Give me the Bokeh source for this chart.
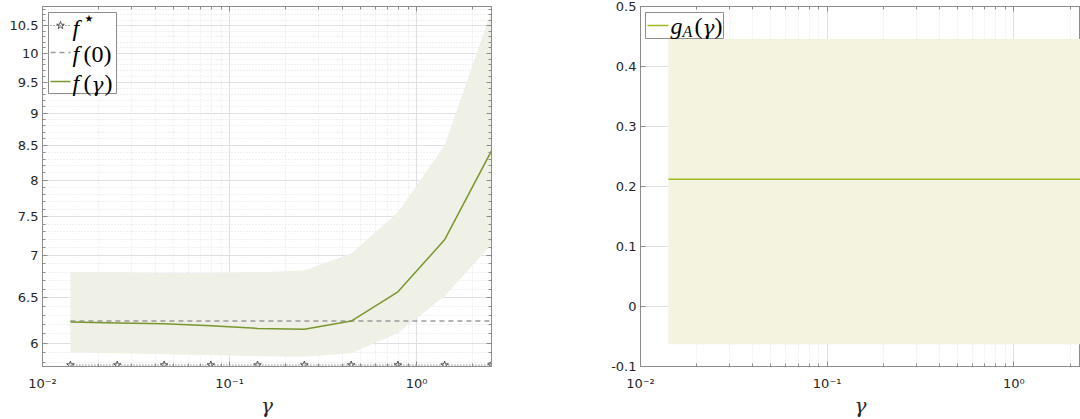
import math
from bokeh.plotting import figure
from bokeh.layouts import row
from bokeh.models import (FixedTicker, CustomJSTickFormatter, Range1d, Label, LogAxis, LinearAxis)
from bokeh.embed import file_html
from bokeh.resources import INLINE

# ---------------- data ----------------
gamma = [0.0141, 0.0251, 0.0447, 0.0794, 0.141, 0.251, 0.447, 0.794, 1.41, 2.51]
f_gamma = [6.23, 6.22, 6.21, 6.19, 6.16, 6.15, 6.24, 6.57, 7.20, 8.42]
f_upper = [6.80, 6.80, 6.79, 6.79, 6.80, 6.82, 7.03, 7.56, 8.50, 10.78]
f_lower = [5.907, 5.895, 5.885, 5.875, 5.866, 5.86, 5.895, 6.11, 6.52, 7.14]
f_zero = [6.24, 6.24, 6.24, 6.24, 6.24, 6.24, 6.24, 6.24, 6.24, 6.24]
f_star = [5.775, 5.775, 5.775, 5.775, 5.775, 5.775, 5.775, 5.775, 5.775, 5.775]

gA = [0.212, 0.212, 0.212, 0.212, 0.212, 0.212, 0.212, 0.212, 0.212, 0.212]
gA_upper = [0.446, 0.446, 0.446, 0.446, 0.446, 0.446, 0.446, 0.446, 0.446, 0.446]
gA_lower = [-0.063, -0.063, -0.063, -0.063, -0.063, -0.063, -0.063, -0.063, -0.063, -0.063]

left_yticks = [6, 6.5, 7, 7.5, 8, 8.5, 9, 9.5, 10, 10.5]
left_yminor = [5.8, 5.9, 6.1, 6.2, 6.3, 6.4, 6.6, 6.7, 6.8, 6.9, 7.1, 7.2, 7.3, 7.4,
               7.6, 7.7, 7.8, 7.9, 8.1, 8.2, 8.3, 8.4, 8.6, 8.7, 8.8, 8.9, 9.1, 9.2,
               9.3, 9.4, 9.6, 9.7, 9.8, 9.9, 10.1, 10.2, 10.3, 10.4, 10.6, 10.7, 10.8]
right_yticks = [-0.1, 0, 0.1, 0.2, 0.3, 0.4, 0.5]
xticks = [0.01, 0.1, 1]
xminor = [0.02, 0.03, 0.04, 0.05, 0.06, 0.07, 0.08, 0.09,
          0.2, 0.3, 0.4, 0.5, 0.6, 0.7, 0.8, 0.9, 2]

# ---------------- style ----------------
AX = "#8c8c8c"
TXT = "#262626"
GRID = "#e0e0e0"
MGRID = "#e3e3e3"
LINE_L = "#7a962e"
BAND_L = "#eff0e6"
LINE_R = "#a0b91e"
BAND_R = "#f4f3df"
SERIF = "Liberation Serif"
GSERIF = "DejaVu Serif"

xfmt = CustomJSTickFormatter(code="""
const e = Math.round(Math.log10(tick));
const m = {"-":"\\u207b","0":"\\u2070","1":"\\u00b9","2":"\\u00b2","3":"\\u00b3"};
return "10" + String(e).split("").map(c => m[c]).join("");
""")
yfmt = "return String(Math.round(tick*100)/100);"


def tick_style(ax):
    ax.axis_line_color = AX
    ax.major_tick_line_color = AX
    ax.minor_tick_line_color = AX
    ax.major_tick_in = 5
    ax.major_tick_out = 0
    ax.minor_tick_in = 3
    ax.minor_tick_out = 0


def mirror_axis(kind, ticker):
    ax = kind(ticker=ticker, formatter=CustomJSTickFormatter(code="return '';"))
    tick_style(ax)
    ax.major_label_standoff = 0
    ax.major_label_text_font_size = "1px"
    ax.major_label_text_alpha = 0
    return ax


def style(p, yticker):
    p.outline_line_color = AX
    p.outline_line_width = 1
    p.background_fill_color = "white"
    p.border_fill_color = "white"
    for ax in (p.xaxis[0], p.yaxis[0]):
        tick_style(ax)
        ax.major_label_text_color = TXT
        ax.major_label_text_font = "DejaVu Sans"
        ax.major_label_text_font_size = "13px"
    p.xaxis[0].ticker = FixedTicker(ticks=xticks, minor_ticks=xminor)
    p.xaxis[0].formatter = xfmt
    p.xaxis[0].major_label_standoff = 9
    p.xaxis[0].axis_label = "γ"
    p.xaxis[0].axis_label_text_font = GSERIF
    p.xaxis[0].axis_label_text_font_style = "italic"
    p.xaxis[0].axis_label_text_font_size = "20px"
    p.xaxis[0].axis_label_text_color = TXT
    p.xaxis[0].axis_label_standoff = 0
    p.yaxis[0].ticker = yticker
    p.yaxis[0].formatter = CustomJSTickFormatter(code=yfmt)
    p.yaxis[0].major_label_standoff = 4
    for g in (p.xgrid[0], p.ygrid[0]):
        g.grid_line_color = GRID
        g.grid_line_width = 1
    p.xgrid[0].ticker = p.xaxis[0].ticker
    p.ygrid[0].ticker = p.yaxis[0].ticker
    p.xgrid[0].minor_grid_line_color = MGRID
    p.xgrid[0].minor_grid_line_dash = "1 2"


def lab(p, x, y, dx, dy, text, size="24px", italic=True, font=SERIF):
    p.add_layout(Label(x=x, y=y, x_offset=dx, y_offset=-dy, text=text,
                       text_font=font, text_font_size=size,
                       text_font_style="italic" if italic else "normal",
                       text_color="black", text_baseline="middle", text_align="left"))


# ---------------- left figure ----------------
LFW, LFH = 449, 360
lx0, lx1 = 0.01, 2.512
ly0, ly1 = 5.76, 10.86
pl = figure(frame_width=LFW, frame_height=LFH, x_axis_type="log", y_axis_type="log",
            x_range=Range1d(lx0, lx1), y_range=Range1d(ly0, ly1),
            output_backend="svg", toolbar_location=None,
            min_border_left=42, min_border_right=69, min_border_top=6, min_border_bottom=53)
style(pl, FixedTicker(ticks=left_yticks, minor_ticks=left_yminor))
pl.ygrid[0].minor_grid_line_color = MGRID
pl.ygrid[0].minor_grid_line_dash = "1 2"
pl.add_layout(mirror_axis(LogAxis, FixedTicker(ticks=left_yticks, minor_ticks=left_yminor)), "right")
pl.add_layout(mirror_axis(LogAxis, FixedTicker(ticks=xticks, minor_ticks=xminor)), "above")

pl.varea(x=gamma, y1=f_lower, y2=f_upper, fill_color=BAND_L, fill_alpha=1)
pl.line(gamma, f_zero, line_color="#9a9a9a", line_width=1.5, line_dash="5 4")
pl.line(gamma, f_gamma, line_color=LINE_L, line_width=1.5)
pl.line(gamma, f_star, line_color="#555555", line_width=1, line_dash="1 2")
pl.scatter(gamma, f_star, marker="star", size=8, fill_color=None, line_color="#333333", line_width=0.8)


def lx(px):
    return 10 ** (math.log10(lx0) + px / LFW * (math.log10(lx1) - math.log10(lx0)))


def ly(py):
    return 10 ** (math.log10(ly1) - py / LFH * (math.log10(ly1) - math.log10(ly0)))


# legend (box, samples, labels)
pl.quad(left=[lx(6)], right=[lx(74)], top=[ly(6)], bottom=[ly(87)],
        fill_color="white", line_color="#8c8c8c", line_width=1)
pl.line([lx(8), lx(28)], [ly(19), ly(19)], line_color="#555555", line_width=1, line_dash="1 2")
pl.scatter([lx(18)], [ly(19)], marker="star", size=8, fill_color=None, line_color="#333333", line_width=0.8)
pl.line([lx(8), lx(28)], [ly(46), ly(46)], line_color="#9a9a9a", line_width=1.5, line_dash="5 4")
pl.line([lx(8), lx(28)], [ly(75), ly(75)], line_color=LINE_L, line_width=1.5)

lab(pl, lx0, ly1, 30, 21, "f")
lab(pl, lx0, ly1, 42, 12, "★", size="10px", italic=False, font="DejaVu Sans")
lab(pl, lx0, ly1, 30, 47, "f")
lab(pl, lx0, ly1, 41, 47, "(0)", italic=False)
lab(pl, lx0, ly1, 30, 76, "f")
lab(pl, lx0, ly1, 41, 76, "(", italic=False)
lab(pl, lx0, ly1, 49, 78, "γ", size="20px", font=GSERIF)
lab(pl, lx0, ly1, 62, 76, ")", italic=False)

# ---------------- right figure ----------------
RFW, RFH = 440, 360
rx0, rx1 = 0.01, 2.276
ry0, ry1 = -0.1, 0.5
pr = figure(frame_width=RFW, frame_height=RFH, x_axis_type="log",
            x_range=Range1d(rx0, rx1), y_range=Range1d(ry0, ry1),
            output_backend="svg", toolbar_location=None,
            min_border_left=80, min_border_right=0, min_border_top=6, min_border_bottom=53)
style(pr, FixedTicker(ticks=right_yticks))
pr.add_layout(mirror_axis(LogAxis, FixedTicker(ticks=xticks, minor_ticks=xminor)), "above")
pr.varea(x=gamma, y1=gA_lower, y2=gA_upper, fill_color=BAND_R, fill_alpha=1)
pr.line(gamma, gA, line_color=LINE_R, line_width=1.5)


def rx(px):
    return 10 ** (math.log10(rx0) + px / RFW * (math.log10(rx1) - math.log10(rx0)))


def ry(py):
    return ry1 - py / RFH * (ry1 - ry0)


pr.quad(left=[rx(5)], right=[rx(83)], top=[ry(6)], bottom=[ry(32)],
        fill_color="white", line_color="#8c8c8c", line_width=1)
pr.line([rx(7), rx(28)], [ry(19), ry(19)], line_color=LINE_R, line_width=1.5)
lab(pr, rx0, ry1, 30, 19, "g")
lab(pr, rx0, ry1, 42, 25, "A", size="16px")
lab(pr, rx0, ry1, 54, 19, "(", italic=False)
lab(pr, rx0, ry1, 62, 21, "γ", size="20px", font=GSERIF)
lab(pr, rx0, ry1, 74, 19, ")", italic=False)

layout = row(pl, pr)
open("out.html", "w").write(file_html(layout, INLINE))
